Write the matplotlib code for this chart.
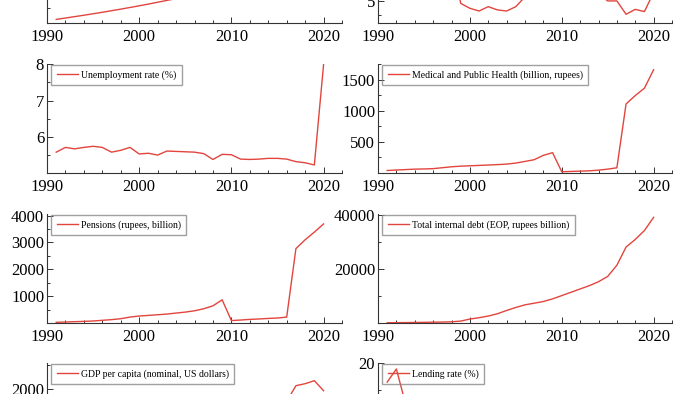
import numpy as np
import matplotlib
matplotlib.use("Agg")
import matplotlib.pyplot as plt
from matplotlib.ticker import MultipleLocator

plt.rcParams['font.family'] = ['Liberation Serif', 'DejaVu Serif']

years = np.arange(1991, 2021)

# series (top row is mostly outside the crop)
population = [871, 887, 903, 919, 936, 953, 971, 989, 1008, 1027,
              1047, 1068, 1089, 1110, 1131, 1152, 1172, 1192, 1211, 1230,
              1249, 1267, 1285, 1302, 1318, 1334, 1349, 1363, 1376, 1389]
inflation = [13.9, 11.8, 6.4, 10.2, 10.2, 9.0, 7.2, 13.2, 4.6, 3.7,
             3.2, 4.0, 3.4, 3.2, 4.0, 5.8, 6.4, 8.4, 10.9, 12.0,
             8.9, 9.3, 10.9, 6.4, 5.05, 5.05, 2.6, 3.5, 3.1, 6.6]
unemployment = [5.59, 5.72, 5.68, 5.72, 5.75, 5.72, 5.59, 5.64, 5.72, 5.54,
                5.56, 5.51, 5.62, 5.61, 5.60, 5.59, 5.55, 5.39, 5.53, 5.52,
                5.40, 5.39, 5.40, 5.42, 5.42, 5.40, 5.33, 5.30, 5.24, 7.98]
medical = [40, 48, 55, 62, 65, 70, 85, 100, 110, 116,
           122, 128, 135, 143, 160, 186, 214, 284, 327, 20,
           25, 30, 35, 46, 62, 84, 1111, 1246, 1365, 1662]
pensions = [25, 37, 49, 60, 75, 100, 125, 160, 220, 260,
            283, 308, 332, 370, 406, 455, 530, 640, 862, 90,
            110, 135, 150, 170, 185, 220, 2770, 3100, 3385, 3690]
internal_debt = [100, 130, 160, 200, 250, 300, 350, 450, 700, 1470,
                 1960, 2580, 3440, 4660, 5770, 6750, 7360, 7980, 8960, 10180,
                 11410, 12640, 13870, 15340, 17300, 21470, 28220, 31040, 34360, 39260]
gdp_pc = [303, 317, 301, 346, 374, 400, 415, 413, 442, 443,
          452, 471, 546, 628, 715, 807, 1028, 999, 1102, 1358,
          1458, 1444, 1450, 1574, 1606, 1733, 2063, 2105, 2168, 1958]
lending = [16.5, 18.9, 12.5, 12.0, 13.0, 13.5, 12.0, 12.0, 11.5, 11.3,
           11.1, 10.9, 10.5, 10.0, 9.8, 10.2, 12.0, 12.3, 11.2, 8.3,
           10.2, 10.6, 10.3, 10.25, 9.9, 9.7, 9.5, 9.45, 9.5, 8.8]

panels = [
    ("Population (million)", population, (830, 2080), 400, 200),
    ("Inflation (CPI, %)", inflation, (1.0, 21.0), 5, 2.5),
    ("Unemployment rate (%)", unemployment, (5.02, 8.0), 1, 0.5),
    ("Medical and Public Health (billion, rupees)", medical, (0, 1754), 500, 250),
    ("Pensions (rupees, billion)", pensions, (0, 4060), 1000, 500),
    ("Total internal debt (EOP, rupees billion)", internal_debt, (0, 40500), 20000, 10000),
    ("GDP per capita (nominal, US dollars)", gdp_pc, (250, 2540), 1000, 500),
    ("Lending rate (%)", lending, (0, 20), 10, 5),
]

W, H = 700, 394
col_left = [47, 378]
col_width = [295, 294]
row_top = [-86, 64, 214, 363]
row_h = 109

fig = plt.figure(figsize=(7, 3.94), dpi=100)

for i, (label, vals, ylim, major, minor) in enumerate(panels):
    r, c = divmod(i, 2)
    ax = fig.add_axes([col_left[c] / W, 1 - (row_top[r] + row_h) / H,
                       col_width[c] / W, row_h / H])
    ax.plot(years, vals, color='#e2453d', lw=1.0, label=label)
    ax.set_xlim(1990, 2022)
    ax.set_ylim(*ylim)
    ax.xaxis.set_major_locator(MultipleLocator(10))
    ax.xaxis.set_minor_locator(MultipleLocator(2))
    ax.yaxis.set_major_locator(MultipleLocator(major))
    ax.yaxis.set_minor_locator(MultipleLocator(minor))
    for s in ['top', 'right']:
        ax.spines[s].set_visible(False)
    for s in ['left', 'bottom']:
        ax.spines[s].set_color('#333333')
        ax.spines[s].set_linewidth(0.8)
    ax.tick_params(which='both', direction='in', colors='#333333',
                   labelcolor='black', labelsize=12, width=0.7)
    ax.tick_params(which='major', length=4)
    ax.tick_params(which='minor', length=2.5)
    ax.tick_params(axis='x', pad=4)
    ax.tick_params(axis='y', pad=2)
    # no label at the bottom of the y axis, as in the original
    yt = [t for t in ax.get_yticks() if ylim[0] < t <= ylim[1] + 1e-9 and t != 0]
    ax.set_yticks(yt)
    ax.legend(loc='upper left', bbox_to_anchor=(0.015, 0.995), fontsize=7,
              frameon=True, fancybox=False, facecolor='none',
              edgecolor='#888888', handlelength=2.2, handletextpad=0.3,
              borderpad=0.55, borderaxespad=0.0)

fig.savefig('out.png', dpi=100)
